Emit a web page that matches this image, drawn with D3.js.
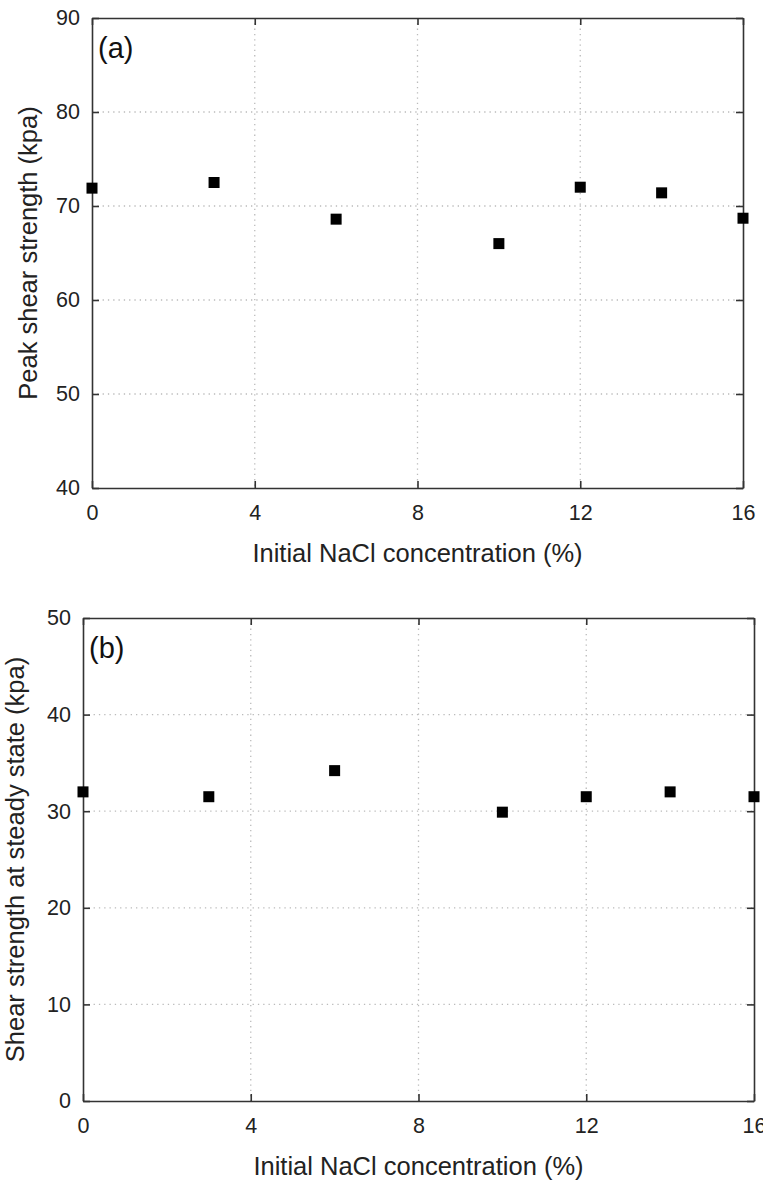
<!DOCTYPE html>
<html>
<head>
<meta charset="utf-8">
<script src="https://cdn.jsdelivr.net/npm/d3@7"></script>
<style>
  body { margin: 0; background: #fff; }
  svg { display: block; font-family: "Liberation Sans", Arial, sans-serif; }
</style>
</head>
<body>
<div id="chart"></div>
<script>
// NaCl concentration (%) for each test
var nacl = [0, 3, 6, 10, 12, 14, 16];
// panel (a) peak shear strength (kpa)
var peakStrength = [71.9, 72.5, 68.6, 66.0, 72.0, 71.4, 68.7];
// panel (b) shear strength at steady state (kpa)
var steadyStrength = [32.0, 31.5, 34.2, 29.9, 31.5, 32.0, 31.5];
var xTicks = [0, 4, 8, 12, 16];
var yTicksA = [40, 50, 60, 70, 80, 90];
var yTicksB = [0, 10, 20, 30, 40, 50];

var svg = d3.select("#chart").append("svg")
  .attr("width", 763)
  .attr("height", 1191);

function drawPanel(opt) {
  var x = d3.scaleLinear().domain([0, 16]).range([opt.left, opt.right]);
  var y = d3.scaleLinear().domain(opt.yDomain).range([opt.bottom, opt.top]);
  var g = svg.append("g");

  // dotted grid
  g.selectAll(".gx").data(xTicks.slice(1, -1)).enter().append("line")
    .attr("x1", function(d) { return x(d); })
    .attr("x2", function(d) { return x(d); })
    .attr("y1", opt.top).attr("y2", opt.bottom)
    .attr("stroke", "#bbb").attr("stroke-width", 1.3)
    .attr("stroke-dasharray", "1.3,4");
  g.selectAll(".gy").data(opt.yTicks.slice(1, -1)).enter().append("line")
    .attr("y1", function(d) { return y(d); })
    .attr("y2", function(d) { return y(d); })
    .attr("x1", opt.left).attr("x2", opt.right)
    .attr("stroke", "#bbb").attr("stroke-width", 1.3)
    .attr("stroke-dasharray", "1.3,4");

  // axes with inward ticks on all four sides
  var tk = -7;
  g.append("g").attr("transform", "translate(0," + opt.bottom + ")")
    .call(d3.axisBottom(x).tickValues(xTicks).tickSizeInner(tk).tickSizeOuter(0).tickPadding(17));
  g.append("g").attr("transform", "translate(0," + opt.top + ")")
    .call(d3.axisTop(x).tickValues(xTicks).tickSizeInner(tk).tickSizeOuter(0).tickFormat(""));
  g.append("g").attr("transform", "translate(" + opt.left + ",0)")
    .call(d3.axisLeft(y).tickValues(opt.yTicks).tickSizeInner(tk).tickSizeOuter(0).tickPadding(12));
  g.append("g").attr("transform", "translate(" + opt.right + ",0)")
    .call(d3.axisRight(y).tickValues(opt.yTicks).tickSizeInner(tk).tickSizeOuter(0).tickFormat(""));

  g.selectAll(".domain").attr("stroke", "#333").attr("stroke-width", 1.6);
  g.selectAll(".tick line").attr("stroke", "#333").attr("stroke-width", 1.6);
  g.selectAll(".tick text").attr("font-size", "21.5px").attr("fill", "#222")
    .attr("font-family", "Liberation Sans, Arial, sans-serif");

  // markers
  g.selectAll("rect.pt").data(opt.values).enter().append("rect")
    .attr("class", "pt")
    .attr("x", function(d, i) { return x(nacl[i]) - 5.5; })
    .attr("y", function(d) { return y(d) - 5.5; })
    .attr("width", 11).attr("height", 11)
    .attr("fill", "#000");

  g.append("text").text(opt.label)
    .attr("x", opt.left + 6).attr("y", opt.top + 40)
    .attr("font-size", "29px").attr("fill", "#111");

  g.append("text").text("Initial NaCl concentration (%)")
    .attr("x", (opt.left + opt.right) / 2).attr("y", opt.bottom + 74)
    .attr("text-anchor", "middle")
    .attr("font-size", "25.5px").attr("fill", "#222");

  g.append("text").text(opt.yTitle)
    .attr("transform", "translate(" + opt.yTitleX + "," + (opt.top + opt.bottom) / 2 + ") rotate(-90)")
    .attr("text-anchor", "middle")
    .attr("font-size", "25.5px").attr("fill", "#222");
}

drawPanel({
  left: 92, right: 743, top: 18, bottom: 488,
  yDomain: [40, 90], yTicks: yTicksA, values: peakStrength,
  label: "(a)", yTitle: "Peak shear strength (kpa)", yTitleX: 37
});
drawPanel({
  left: 83, right: 754, top: 618, bottom: 1101,
  yDomain: [0, 50], yTicks: yTicksB, values: steadyStrength,
  label: "(b)", yTitle: "Shear strength at steady state (kpa)", yTitleX: 24
});
</script>
</body>
</html>
